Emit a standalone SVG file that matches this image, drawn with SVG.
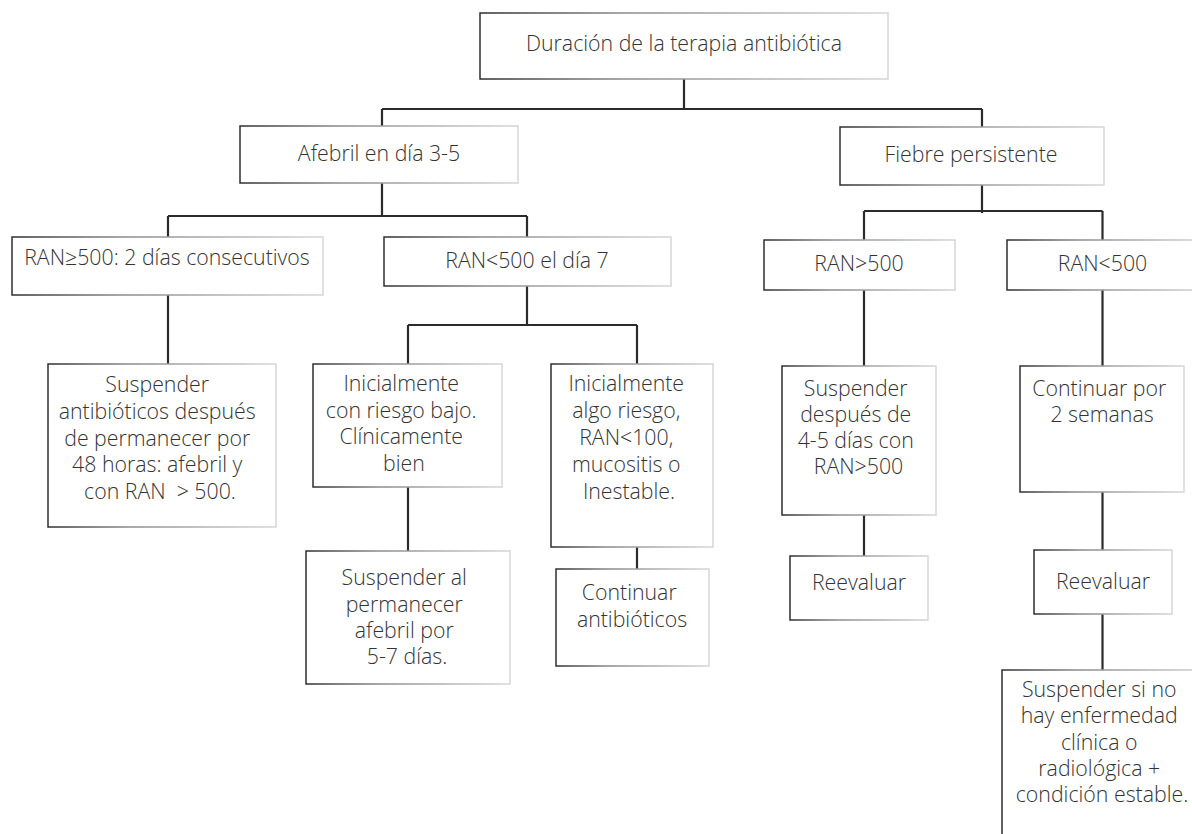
<svg xmlns="http://www.w3.org/2000/svg" width="1192" height="834" viewBox="0 0 1192 834">
  <defs>
    <linearGradient id="edge" x1="0" y1="0" x2="1" y2="0">
      <stop offset="0" stop-color="#2e2e2e"/>
      <stop offset="0.35" stop-color="#8a8a8a"/>
      <stop offset="1" stop-color="#d6d6d6"/>
    </linearGradient>
  </defs>
  <style>
    .box { fill: #ffffff; stroke: url(#edge); stroke-width: 1.5; }
    .lbl { font-family: "Open Sans", "Liberation Sans", sans-serif; font-weight: 300; font-size: 21.3px; fill: #333333; text-anchor: middle; }
    .con { fill: none; stroke: #2b2b2b; stroke-width: 2.2; }
  </style>
  <rect width="1192" height="834" fill="#ffffff"/>

  <g id="connectors">
    <path class="con" d="M684 79 V109 M382 109 H982 M382 109 V126 M982 109 V127"/>
    <path class="con" d="M382 183 V216 M168 216 H527 M168 216 V237 M527 216 V237"/>
    <path class="con" d="M982 185 V213 M864 211 H1102.5 M864 211 V240 M1102.5 211 V240"/>
    <path class="con" d="M168 295 V364"/>
    <path class="con" d="M527 286 V325 M408 325 H637 M408 325 V364 M637 325 V364"/>
    <path class="con" d="M408 487 V551 M637 547 V569"/>
    <path class="con" d="M864 290 V366 M864 515 V556"/>
    <path class="con" d="M1102.5 290 V366 M1102.5 492 V550 M1102.5 614 V670"/>
  </g>

  <g id="root">
    <rect class="box" x="480" y="13" width="408" height="66"/>
    <text class="lbl" x="684" y="51">Duración de la terapia antibiótica</text>
  </g>
  <g id="afebril">
    <rect class="box" x="240" y="126" width="278" height="57"/>
    <text class="lbl" x="379" y="161">Afebril en día 3-5</text>
  </g>
  <g id="fiebre">
    <rect class="box" x="840" y="127" width="264" height="58"/>
    <text class="lbl" x="971" y="162">Fiebre persistente</text>
  </g>
  <g id="ran-ge500">
    <rect class="box" x="12" y="237" width="311" height="58"/>
    <text class="lbl" x="167" y="265">RAN≥500: 2 días consecutivos</text>
  </g>
  <g id="ran-lt500-d7">
    <rect class="box" x="384" y="237" width="287" height="49"/>
    <text class="lbl" x="527" y="268">RAN&lt;500 el día 7</text>
  </g>
  <g id="ran-gt500">
    <rect class="box" x="764" y="240" width="191" height="50"/>
    <text class="lbl" x="859" y="271">RAN&gt;500</text>
  </g>
  <g id="ran-lt500">
    <rect class="box" x="1007" y="240" width="200" height="50"/>
    <text class="lbl" x="1102.5" y="271">RAN&lt;500</text>
  </g>
  <g id="suspender-48h">
    <rect class="box" x="48" y="364" width="228" height="163"/>
    <text class="lbl" x="160" y="392">
      <tspan x="160" y="392">Suspender</tspan>
      <tspan x="160" y="419">antibióticos después</tspan>
      <tspan x="160" y="446">de permanecer por</tspan>
      <tspan x="160" y="472">48 horas: afebril y</tspan>
      <tspan x="160" y="499" xml:space="preserve">con RAN  &gt; 500.</tspan>
    </text>
  </g>
  <g id="riesgo-bajo">
    <rect class="box" x="313" y="364" width="189" height="123"/>
    <text class="lbl" x="404" y="391">
      <tspan x="404" y="391">Inicialmente</tspan>
      <tspan x="404" y="418">con riesgo bajo.</tspan>
      <tspan x="404" y="444">Clínicamente</tspan>
      <tspan x="404" y="471">bien</tspan>
    </text>
  </g>
  <g id="algo-riesgo">
    <rect class="box" x="551" y="364" width="162" height="183"/>
    <text class="lbl" x="629" y="391">
      <tspan x="629" y="391">Inicialmente</tspan>
      <tspan x="629" y="418">algo riesgo,</tspan>
      <tspan x="629" y="445">RAN&lt;100,</tspan>
      <tspan x="629" y="472">mucositis o</tspan>
      <tspan x="629" y="499">Inestable.</tspan>
    </text>
  </g>
  <g id="suspender-5-7">
    <rect class="box" x="306" y="551" width="204" height="133"/>
    <text class="lbl" x="407" y="585">
      <tspan x="407" y="585">Suspender al</tspan>
      <tspan x="407" y="612">permanecer</tspan>
      <tspan x="407" y="638">afebril por</tspan>
      <tspan x="407" y="664">5-7 días.</tspan>
    </text>
  </g>
  <g id="continuar-antibioticos">
    <rect class="box" x="556" y="569" width="153" height="97"/>
    <text class="lbl" x="632" y="600">
      <tspan x="632" y="600">Continuar</tspan>
      <tspan x="632" y="627">antibióticos</tspan>
    </text>
  </g>
  <g id="suspender-4-5">
    <rect class="box" x="782" y="366" width="154" height="149"/>
    <text class="lbl" x="858.5" y="396">
      <tspan x="858.5" y="396">Suspender</tspan>
      <tspan x="858.5" y="422">después de</tspan>
      <tspan x="858.5" y="448">4-5 días con</tspan>
      <tspan x="858.5" y="474">RAN&gt;500</tspan>
    </text>
  </g>
  <g id="reevaluar-1">
    <rect class="box" x="790" y="556" width="138" height="64"/>
    <text class="lbl" x="859" y="590">Reevaluar</text>
  </g>
  <g id="continuar-2-semanas">
    <rect class="box" x="1020" y="366" width="164" height="126"/>
    <text class="lbl" x="1102" y="396">
      <tspan x="1102" y="396">Continuar por</tspan>
      <tspan x="1102" y="422">2 semanas</tspan>
    </text>
  </g>
  <g id="reevaluar-2">
    <rect class="box" x="1034" y="550" width="138" height="64"/>
    <text class="lbl" x="1103" y="589">Reevaluar</text>
  </g>
  <g id="suspender-si-no">
    <rect class="box" x="1002" y="670" width="210" height="180"/>
    <text class="lbl" x="1102" y="697">
      <tspan x="1102" y="697">Suspender si no</tspan>
      <tspan x="1102" y="723">hay enfermedad</tspan>
      <tspan x="1102" y="750">clínica o</tspan>
      <tspan x="1102" y="776">radiológica +</tspan>
      <tspan x="1102" y="802">condición estable.</tspan>
    </text>
  </g>
</svg>
